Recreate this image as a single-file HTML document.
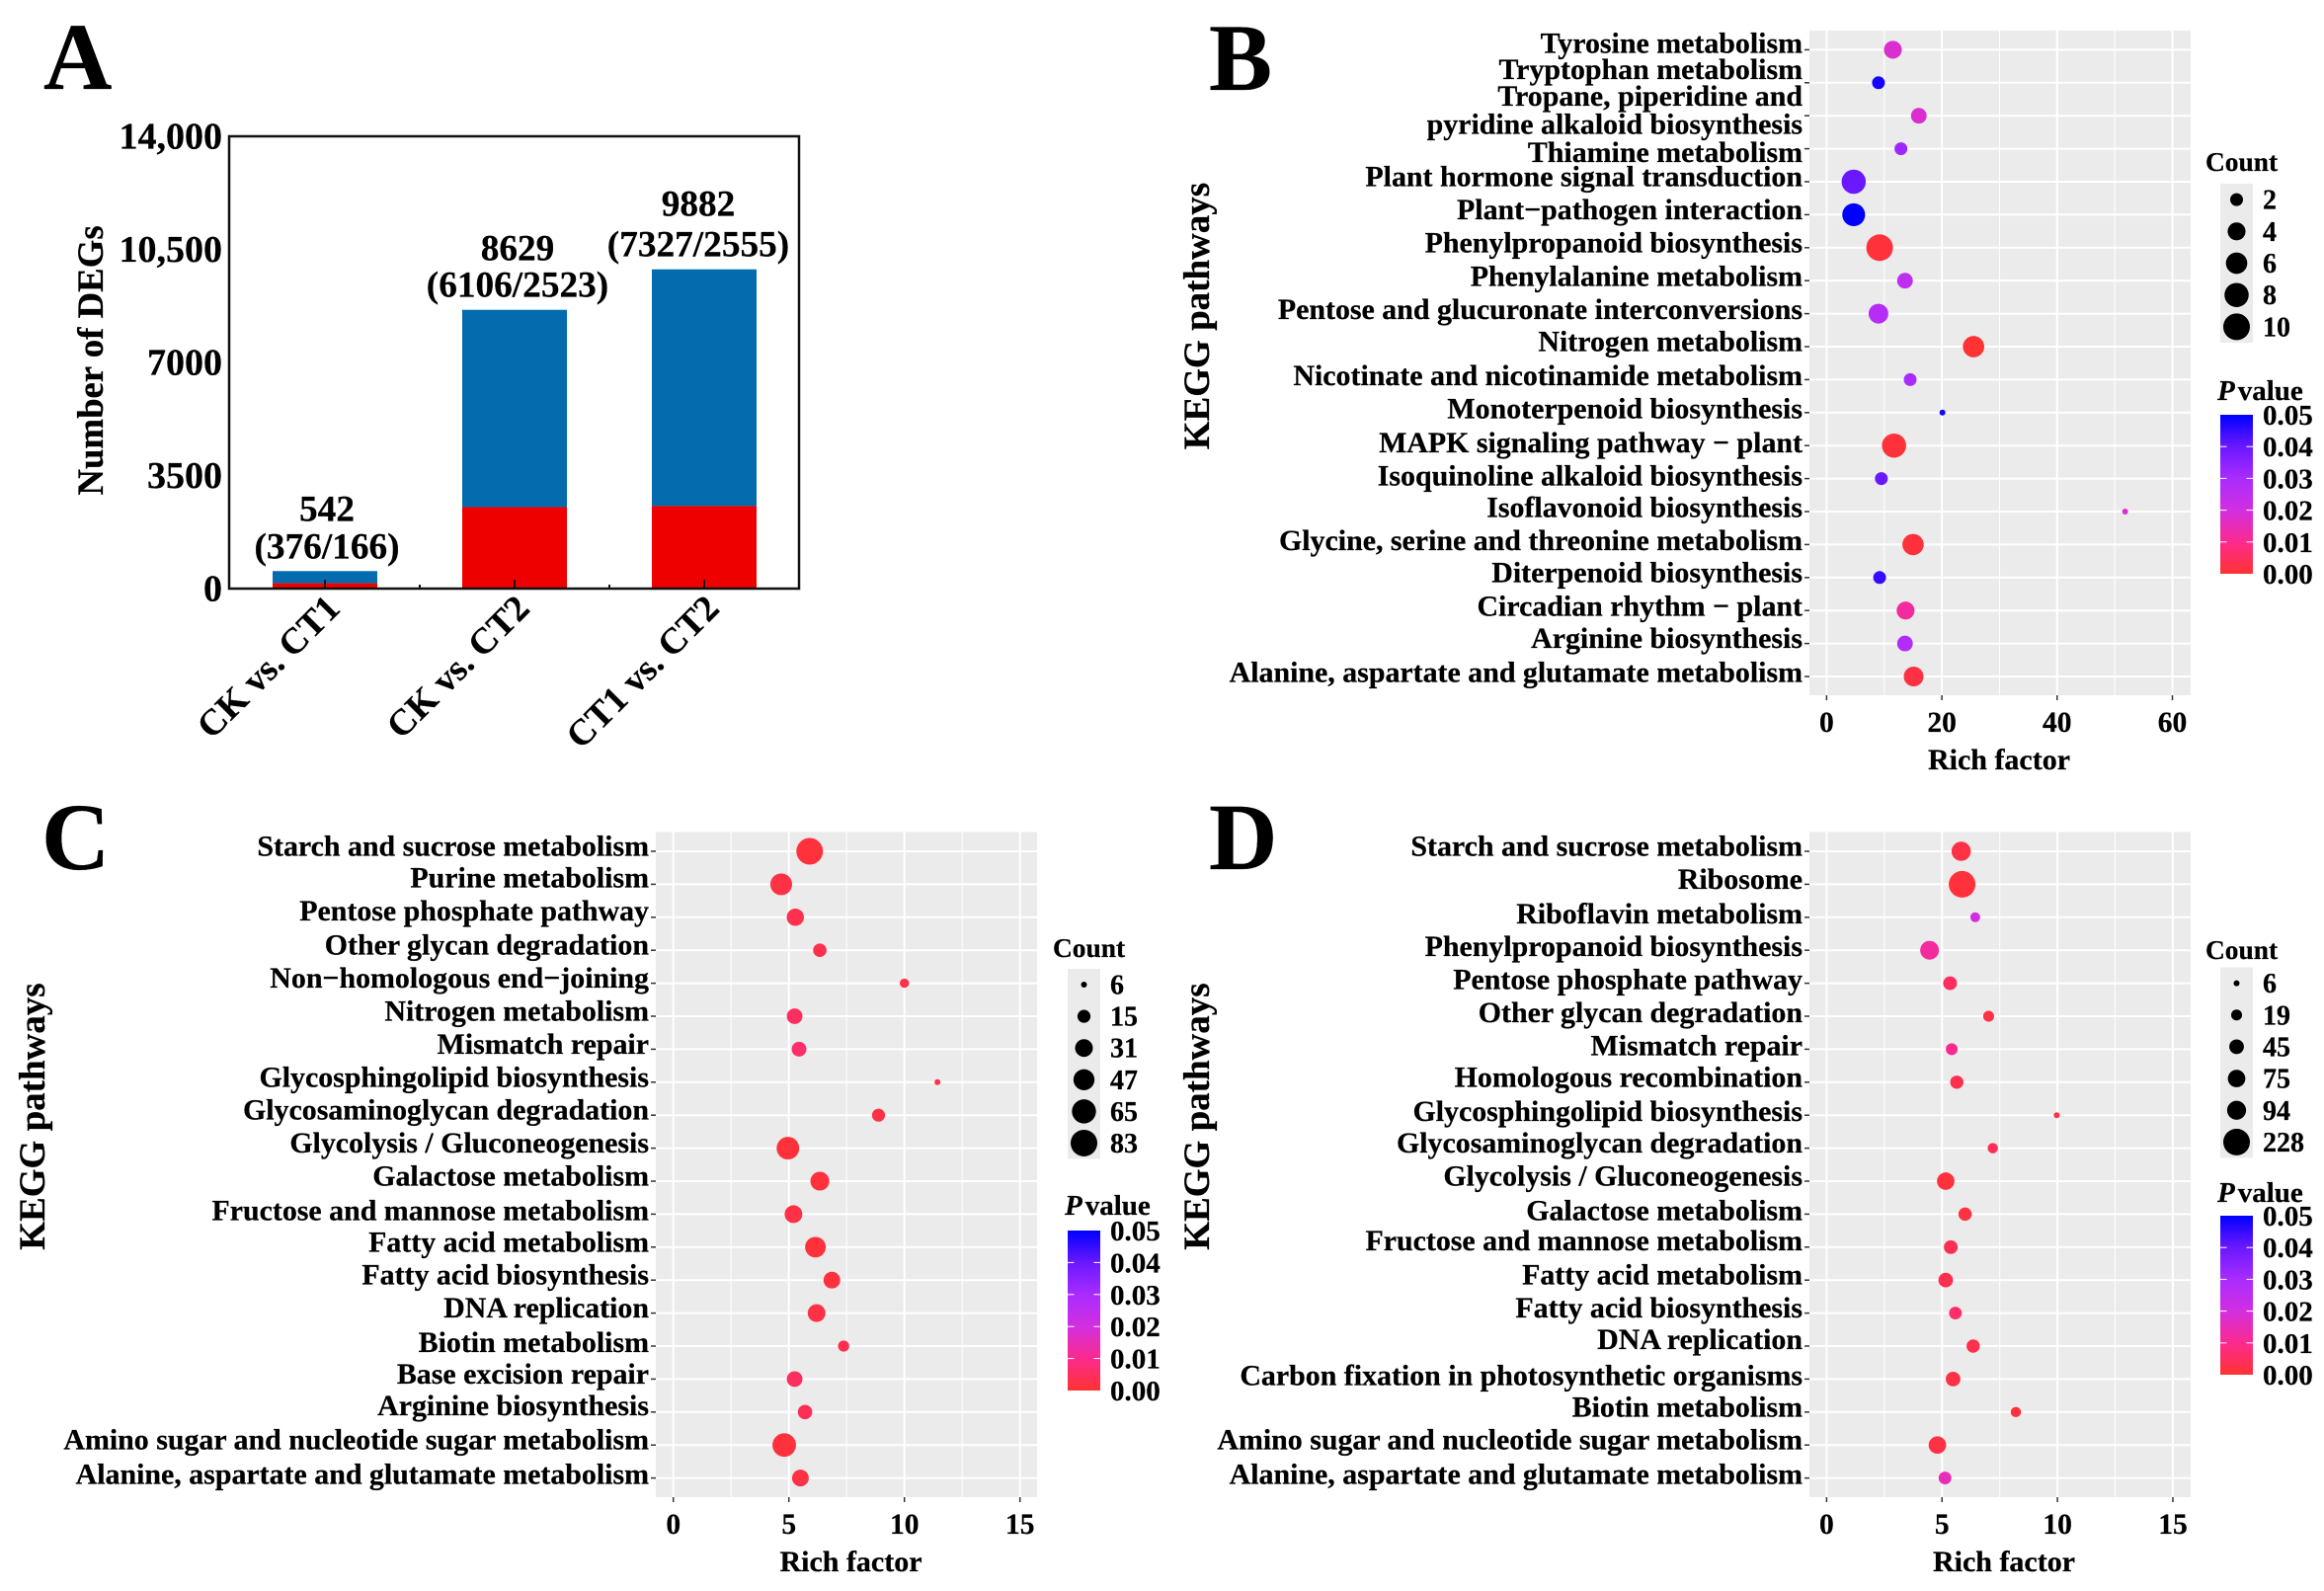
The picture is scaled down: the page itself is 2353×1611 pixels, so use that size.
<!DOCTYPE html>
<html lang="en">
<head>
<meta charset="utf-8">
<title>DEG counts and KEGG enrichment</title>
<style>
html,body{margin:0;padding:0;background:#fff;}
svg{display:block;}
text{font-family:"Liberation Serif",serif;font-weight:bold;fill:#000;stroke:#000;stroke-width:0.25px;}
</style>
</head>
<body>
<svg id="figure" xmlns="http://www.w3.org/2000/svg" width="2353" height="1611" viewBox="0 0 2353 1611">
  <defs>
    <linearGradient id="pGradient" x1="0" y1="1" x2="0" y2="0">
      <stop offset="0" stop-color="#ff3333"/>
      <stop offset="0.2" stop-color="#fb2a8e"/>
      <stop offset="0.4" stop-color="#d22fe0"/>
      <stop offset="0.6" stop-color="#a92cff"/>
      <stop offset="0.8" stop-color="#6a18ff"/>
      <stop offset="1" stop-color="#0000ff"/>
    </linearGradient>
  </defs>
  <rect x="0" y="0" width="2353" height="1611" fill="#fff"/>
  <text x="44" y="90" font-size="96">A</text>
  <text x="1224" y="91" font-size="96">B</text>
  <text x="42" y="880" font-size="96">C</text>
  <text x="1224" y="880" font-size="96">D</text>
  <g id="panelA"></g>
  <g id="panelB"></g>
  <g id="panelC"></g>
  <g id="panelD"></g>
</svg>
<script>
// ---------- Panel A data ----------
const barCategories = ['CK vs. CT1', 'CK vs. CT2', 'CT1 vs. CT2'];
const barUp = [376, 6106, 7327];
const barDown = [166, 2523, 2555];
const barTicks = [0, 3500, 7000, 10500, 14000];
const barTickLabels = ['0', '3500', '7000', '10,500', '14,000'];

// ---------- Panel B data ----------
const pathwaysB = ['Tyrosine metabolism', 'Tryptophan metabolism', 'Tropane, piperidine and\npyridine alkaloid biosynthesis', 'Thiamine metabolism', 'Plant hormone signal transduction', 'Plant\u2212pathogen interaction', 'Phenylpropanoid biosynthesis', 'Phenylalanine metabolism', 'Pentose and glucuronate interconversions', 'Nitrogen metabolism', 'Nicotinate and nicotinamide metabolism', 'Monoterpenoid biosynthesis', 'MAPK signaling pathway \u2212 plant', 'Isoquinoline alkaloid biosynthesis', 'Isoflavonoid biosynthesis', 'Glycine, serine and threonine metabolism', 'Diterpenoid biosynthesis', 'Circadian rhythm \u2212 plant', 'Arginine biosynthesis', 'Alanine, aspartate and glutamate metabolism'];
const richB = [11.5, 9.0, 16.0, 12.9, 4.7, 4.7, 9.2, 13.6, 9.0, 25.5, 14.5, 20.1, 11.7, 9.5, 51.8, 15.0, 9.2, 13.7, 13.6, 15.1];
const countB = [4, 2, 3, 2, 8, 7, 10, 3, 5, 6, 2, 1, 8, 2, 1, 6, 2, 4, 3, 5];
const pB = [0.018, 0.048, 0.018, 0.032, 0.040, 0.050, 0.001, 0.025, 0.027, 0.000, 0.030, 0.048, 0.001, 0.040, 0.018, 0.001, 0.045, 0.012, 0.028, 0.002];
const xTicksB = [0, 20, 40, 60];
const xMinorB = [10, 30, 50];
const legendCountsB = [2, 4, 6, 8, 10];

// ---------- Panel C data ----------
const pathwaysC = ['Starch and sucrose metabolism', 'Purine metabolism', 'Pentose phosphate pathway', 'Other glycan degradation', 'Non\u2212homologous end\u2212joining', 'Nitrogen metabolism', 'Mismatch repair', 'Glycosphingolipid biosynthesis', 'Glycosaminoglycan degradation', 'Glycolysis / Gluconeogenesis', 'Galactose metabolism', 'Fructose and mannose metabolism', 'Fatty acid metabolism', 'Fatty acid biosynthesis', 'DNA replication', 'Biotin metabolism', 'Base excision repair', 'Arginine biosynthesis', 'Amino sugar and nucleotide sugar metabolism', 'Alanine, aspartate and glutamate metabolism'];
const richC = [5.9, 4.67, 5.28, 6.34, 10.0, 5.25, 5.44, 11.43, 8.88, 4.96, 6.34, 5.2, 6.15, 6.86, 6.2, 7.37, 5.25, 5.7, 4.8, 5.5];
const countC = [83, 51, 29, 16, 8, 23, 20, 6, 15, 56, 36, 31, 45, 27, 31, 11, 23, 19, 62, 27];
const pC = [0.001, 0.002, 0.003, 0.003, 0.002, 0.005, 0.006, 0.002, 0.002, 0.001, 0.001, 0.002, 0.001, 0.001, 0.002, 0.003, 0.005, 0.004, 0.001, 0.002];
const xTicksC = [0, 5, 10, 15];
const xMinorC = [2.5, 7.5, 12.5];
const legendCountsC = [6, 15, 31, 47, 65, 83];

// ---------- Panel D data ----------
const pathwaysD = ['Starch and sucrose metabolism', 'Ribosome', 'Riboflavin metabolism', 'Phenylpropanoid biosynthesis', 'Pentose phosphate pathway', 'Other glycan degradation', 'Mismatch repair', 'Homologous recombination', 'Glycosphingolipid biosynthesis', 'Glycosaminoglycan degradation', 'Glycolysis / Gluconeogenesis', 'Galactose metabolism', 'Fructose and mannose metabolism', 'Fatty acid metabolism', 'Fatty acid biosynthesis', 'DNA replication', 'Carbon fixation in photosynthetic organisms', 'Biotin metabolism', 'Amino sugar and nucleotide sugar metabolism', 'Alanine, aspartate and glutamate metabolism'];
const richD = [5.83, 5.87, 6.44, 4.46, 5.35, 7.02, 5.42, 5.64, 9.97, 7.2, 5.16, 6.0, 5.38, 5.16, 5.58, 6.35, 5.48, 8.2, 4.8, 5.13];
const countD = [98, 228, 14, 91, 38, 19, 24, 34, 6, 16, 75, 34, 38, 45, 30, 34, 45, 16, 75, 30];
const pD = [0.002, 0.001, 0.020, 0.012, 0.005, 0.002, 0.010, 0.003, 0.002, 0.004, 0.001, 0.002, 0.004, 0.003, 0.006, 0.003, 0.002, 0.001, 0.002, 0.015];
const xTicksD = [0, 5, 10, 15];
const xMinorD = [2.5, 7.5, 12.5];
const legendCountsD = [6, 19, 45, 75, 94, 228];

// ---------- Shared legend data ----------
const pLegendTicks = [0.00, 0.01, 0.02, 0.03, 0.04, 0.05];
const pColorStops = ['#ff3333', '#fb2a8e', '#d22fe0', '#a92cff', '#6a18ff', '#0000ff'];

// ---------- Helpers ----------
const NS = 'http://www.w3.org/2000/svg';
function make(parent, tag, attrs, content) {
  const node = document.createElementNS(NS, tag);
  for (const key in attrs) node.setAttribute(key, attrs[key]);
  if (content !== undefined) node.textContent = content;
  parent.appendChild(node);
  return node;
}
function hexToRgb(hex) {
  return [1, 3, 5].map(function (i) { return parseInt(hex.slice(i, i + 2), 16); });
}
function pColor(p) {
  const t = Math.max(0, Math.min(1, p / 0.05)) * (pColorStops.length - 1);
  const i = Math.min(pColorStops.length - 2, Math.floor(t));
  const a = hexToRgb(pColorStops[i]);
  const b = hexToRgb(pColorStops[i + 1]);
  const f = t - i;
  return 'rgb(' + a.map(function (v, k) { return Math.round(v + (b[k] - v) * f); }).join(',') + ')';
}

// ---------- Panel A ----------
(function drawBars() {
  const g = document.getElementById('panelA');
  const box = { left: 232, right: 809, top: 138, bottom: 596 };
  const yMax = 14000;
  const y = function (v) { return box.bottom - (box.bottom - box.top) * v / yMax; };
  const bandStart = 233, band = 192, barWidth = 106;
  const x = function (i) { return bandStart + band * (i + 0.5); };
  const labelNudge = [2, 3, -6];
  const totalGap = [51, 50, 54];

  barCategories.forEach(function (cat, i) {
    const total = barUp[i] + barDown[i];
    const up = make(g, 'rect', { x: x(i) - barWidth / 2, y: y(total), width: barWidth, height: y(barDown[i]) - y(total), fill: '#036bae' });
    
    
    const down = make(g, 'rect', { x: x(i) - barWidth / 2, y: y(barDown[i]), width: barWidth, height: box.bottom - y(barDown[i]), fill: '#ef0000' });
    
    

    const totalText = make(g, 'text', { x: x(i) + labelNudge[i], y: y(total) - totalGap[i], 'text-anchor': 'middle', 'font-size': 37.3 }, String(total));
    
    
    const splitText = make(g, 'text', { x: x(i) + labelNudge[i], y: y(total) - 13, 'text-anchor': 'middle', 'font-size': 37.3 }, '(' + barUp[i] + '/' + barDown[i] + ')');
    
    

    const tick = make(g, 'line', { x1: x(i), x2: x(i), y1: box.bottom, y2: box.bottom - 9, stroke: '#111', 'stroke-width': 2 });
    
    
    if (i < barCategories.length - 1) {
      const minor = make(g, 'line', { x1: x(i) + band / 2, x2: x(i) + band / 2, y1: box.bottom, y2: box.bottom - 4, stroke: '#111', 'stroke-width': 2 });
      
      
    }
    const lx = x(i) + 17, ly = 618;
    const catText = make(g, 'text', { x: lx, y: ly, 'text-anchor': 'end', 'font-size': 37, transform: 'rotate(-45 ' + lx + ' ' + ly + ')' }, cat);
    
    
  });

  const frame = make(g, 'rect', { x: box.left, y: box.top, width: box.right - box.left, height: box.bottom - box.top, fill: 'none', stroke: '#111', 'stroke-width': 2.5 });
  
  

  barTicks.forEach(function (v, i) {
    const t = make(g, 'text', { x: 225, y: y(v) + 12.5, 'text-anchor': 'end', 'font-size': 38 }, barTickLabels[i]);
    
    
  });
  const title = make(g, 'text', { x: 0, y: 0, 'text-anchor': 'middle', 'font-size': 36.8, transform: 'translate(104 365) rotate(-90)' }, 'Number of DEGs');
  
  
})();

// ---------- Bubble panels ----------
function drawBubbles(opts) {
  const g = document.getElementById(opts.id);
  const box = opts.box;
  const x = function (v) { return opts.x0 + v * opts.k; };
  const rowStep = 33.4;
  const y = function (i) { return opts.firstRow + i * rowStep; };
  const minC = opts.sizeMin, maxC = opts.sizeMax;
  const dia = function (c) { return 6 + 21 * Math.sqrt((c - minC) / (maxC - minC)); };

  const bg = make(g, 'rect', { x: box.left, y: box.top, width: box.right - box.left, height: box.bottom - box.top, fill: '#ebebeb' });
  
  

  opts.xMinor.forEach(function (v) {
    const l = make(g, 'line', { x1: x(v), x2: x(v), y1: box.top, y2: box.bottom, stroke: '#fff', 'stroke-width': 1 });
    
    
  });
  opts.xTicks.forEach(function (v) {
    const l = make(g, 'line', { x1: x(v), x2: x(v), y1: box.top, y2: box.bottom, stroke: '#fff', 'stroke-width': 2 });
    
    
    const tick = make(g, 'line', { x1: x(v), x2: x(v), y1: box.bottom, y2: box.bottom + 5, stroke: '#333', 'stroke-width': 1.5 });
    
    
    const t = make(g, 'text', { x: x(v), y: box.bottom + 37, 'text-anchor': 'middle', 'font-size': 29.5 }, String(v));
    
    
  });

  opts.pathways.forEach(function (name, i) {
    const gl = make(g, 'line', { x1: box.left, x2: box.right, y1: y(i), y2: y(i), stroke: '#fff', 'stroke-width': 2 });
    
    
    const tick = make(g, 'line', { x1: box.left - 5, x2: box.left, y1: y(i), y2: y(i), stroke: '#333', 'stroke-width': 1.5 });
    
    
    const lines = name.split('\n');
    const nudge = opts.nudge && opts.nudge[i] !== undefined ? opts.nudge[i] : opts.baseline;
    lines.forEach(function (line, j) {
      const extra = lines.length > 1 ? (j === 0 ? -10 : 18.5) : nudge;
      const t = make(g, 'text', { x: box.left - 7, y: y(i) + extra, 'text-anchor': 'end', 'font-size': 29.9 }, line);
      
      
    });
  });

  opts.rich.forEach(function (v, i) {
    const d = dia(opts.count[i]);
    const c = make(g, 'circle', { cx: x(v), cy: y(i), r: d / 2, fill: pColor(opts.p[i]) });
    
    
  });

  const xt = make(g, 'text', { x: opts.xTitleX, y: box.bottom + 75, 'text-anchor': 'middle', 'font-size': 30 }, 'Rich factor');
  
  
  const yt = make(g, 'text', { x: 0, y: 0, 'text-anchor': 'middle', 'font-size': 37, transform: 'translate(' + opts.yTitleX + ' ' + opts.yTitleY + ') rotate(-90)' }, 'KEGG pathways');
  
  

  // Count legend
  const lg = opts.legend;
  const ct = make(g, 'text', { x: lg.x - 15, y: lg.countTitleY, 'font-size': 27.4 }, 'Count');
  
  
  const keyH = lg.keyBottom - lg.keyTop;
  const keyBg = make(g, 'rect', { x: lg.x, y: lg.keyTop, width: 33, height: keyH, fill: '#ebebeb' });
  
  
  opts.legendCounts.forEach(function (c, i) {
    const cy = lg.keyTop + keyH * (i + 0.5) / opts.legendCounts.length;
    const dot = make(g, 'circle', { cx: lg.x + 16.5, cy: cy, r: dia(c) / 2, fill: '#000' });
    
    
    const t = make(g, 'text', { x: lg.x + 43, y: cy + 9.5, 'font-size': 28 }, String(c));
    
    
  });

  // P value legend
  const pt = make(g, 'text', { x: lg.x - 3, y: lg.pTitleY, 'font-size': 29 });
  
  
  const italicP = make(pt, 'tspan', { 'font-style': 'italic' }, 'P');
  
  
  const restP = make(pt, 'tspan', { dx: 3 }, 'value');
  
  
  const barH = lg.barBottom - lg.barTop;
  const bar = make(g, 'rect', { x: lg.x, y: lg.barTop, width: 33, height: barH, fill: 'url(#pGradient)' });
  
  
  pLegendTicks.forEach(function (p) {
    const py = lg.barBottom - barH * p / 0.05;
    if (p > 0 && p < 0.05) {
      const t1 = make(g, 'line', { x1: lg.x, x2: lg.x + 6.5, y1: py, y2: py, stroke: '#fff', 'stroke-width': 1 });
      
      
      const t2 = make(g, 'line', { x1: lg.x + 26.5, x2: lg.x + 33, y1: py, y2: py, stroke: '#fff', 'stroke-width': 1 });
      
      
    }
    const t = make(g, 'text', { x: lg.x + 43, y: py + 10, 'font-size': 29 }, p.toFixed(2));
    
    
  });
}

drawBubbles({
  id: 'panelB', pathways: pathwaysB, rich: richB, count: countB, p: pB,
  xTicks: xTicksB, xMinor: xMinorB, legendCounts: legendCountsB,
  sizeMin: 1, sizeMax: 10,
  box: { left: 1832, right: 2218, top: 31, bottom: 704 },
  x0: 1849.4, k: 5.835, firstRow: 50.4, baseline: 5.5,
  nudge: { 0: 3, 1: -4, 3: 13.5, 4: 4.5, 5: 4.5, 6: 4.5, 9: 4.5, 12: 7, 13: 7, 16: 4.5, 18: 4.5 },
  xTitleX: 2024, yTitleX: 1224, yTitleY: 320,
  legend: { x: 2248, countTitleY: 173, keyTop: 186, keyBottom: 347, pTitleY: 405, barTop: 420, barBottom: 581 }
});
drawBubbles({
  id: 'panelC', pathways: pathwaysC, rich: richC, count: countC, p: pC,
  xTicks: xTicksC, xMinor: xMinorC, legendCounts: legendCountsC,
  sizeMin: 6, sizeMax: 83,
  box: { left: 664, right: 1050, top: 842.4, bottom: 1516 },
  x0: 681.7, k: 23.4, firstRow: 862, baseline: 4.5,
  nudge: { 1: 3, 2: 3, 11: 6, 15: 6, 17: 3, 19: 6 },
  xTitleX: 861.5, yTitleX: 45, yTitleY: 1130.5,
  legend: { x: 1081, countTitleY: 969, keyTop: 981, keyBottom: 1173.5, pTitleY: 1230, barTop: 1246, barBottom: 1408 }
});
drawBubbles({
  id: 'panelD', pathways: pathwaysD, rich: richD, count: countD, p: pD,
  xTicks: xTicksD, xMinor: xMinorD, legendCounts: legendCountsD,
  sizeMin: 6, sizeMax: 228,
  box: { left: 1832, right: 2218, top: 842.4, bottom: 1516 },
  x0: 1849.4, k: 23.37, firstRow: 862, baseline: 6,
  nudge: { 0: 4.5, 1: 4.5, 7: 4.5, 9: 4.5, 10: 4.5, 12: 3, 13: 4.5, 14: 4.5, 15: 3, 17: 4.5, 18: 4.5 },
  xTitleX: 2029, yTitleX: 1224, yTitleY: 1130.5,
  legend: { x: 2248, countTitleY: 971, keyTop: 979.5, keyBottom: 1172.5, pTitleY: 1217, barTop: 1231, barBottom: 1392 }
});
</script>
</body>
</html>
